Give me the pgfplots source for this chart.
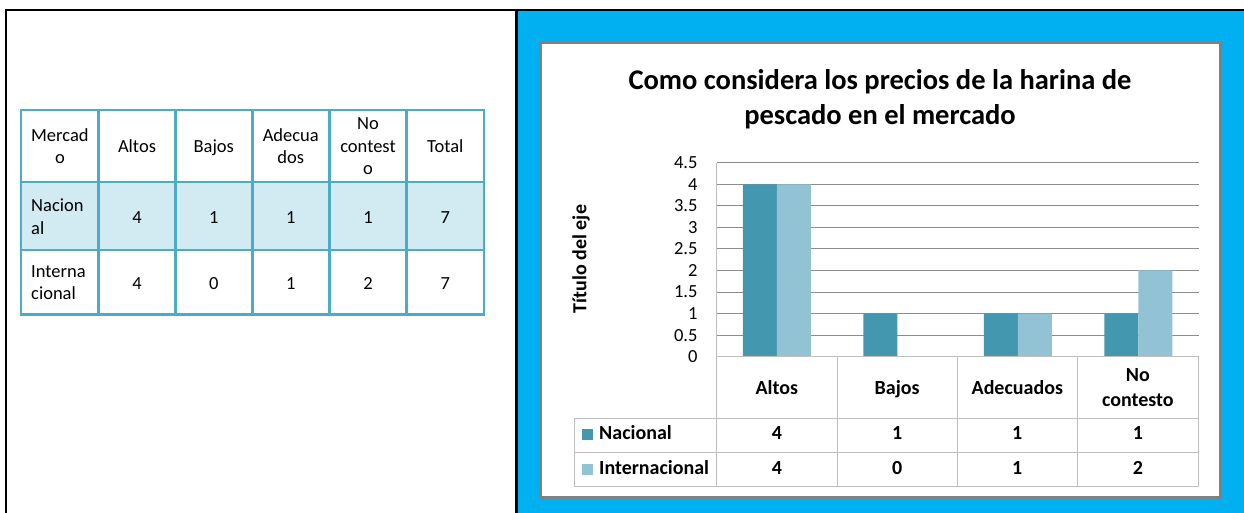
\documentclass[border=0pt]{standalone}
\usepackage{pgfplots}
\pgfplotsset{compat=1.18}
\usepackage{fontspec}
\setmainfont{Carlito}
\definecolor{nac}{RGB}{67,151,175}
\definecolor{intl}{RGB}{146,195,212}
\definecolor{skyb}{RGB}{0,176,240}
\definecolor{tblue}{RGB}{75,172,198}
\definecolor{tfill}{RGB}{210,234,241}
\definecolor{gline}{RGB}{140,140,140}
\definecolor{lline}{RGB}{190,190,190}
\definecolor{cborder}{RGB}{128,128,128}
\newcommand{\fs}[1]{\fontsize{#1}{#1}\selectfont}
\begin{document}
\begin{tikzpicture}[x=1pt,y=1pt]
\useasboundingbox (0,0) rectangle (1244,513);
% outer frame
\fill[black] (5,0) rectangle (7,504);
\fill[black] (5,502) rectangle (1244,504);
\fill[skyb] (517.5,0) rectangle (1244,502);
\fill[black] (515,0) rectangle (517.5,504);
% chart box
\draw[cborder, line width=2.6pt, fill=white] (540.7,15.7) rectangle (1220.7,470);
% left table
\fill[tfill] (21,263) rectangle (484,331);
\begin{scope}[tblue, line width=2.7pt]
\draw (21,198.7) rectangle (484,403);
\draw (21,331) -- (484,331);
\draw (21,263) -- (484,263);
\foreach \xx in {98.7,175.3,252.3,329.3,406.7} \draw (\xx,198.7) -- (\xx,403);
\end{scope}
\begin{scope}[every node/.style={inner sep=0pt, anchor=base, font=\fs{18.5}}]
\node at (59.9,371.3) {Mercad};
\node at (59.9,349.7) {o};
\node at (137,360.3) {Altos};
\node at (213.8,360.3) {Bajos};
\node at (290.8,371.3) {Adecua};
\node at (290.8,349.7) {dos};
\node at (368,383.7) {No};
\node at (368,360.3) {contest};
\node at (368,338) {o};
\node at (445.3,360.3) {Total};
\node[anchor=base west] at (31,301.3) {Nacion};
\node[anchor=base west] at (31,278.7) {al};
\node at (137,289.7) {4};
\node at (213.8,289.7) {1};
\node at (290.8,289.7) {1};
\node at (368,289.7) {1};
\node at (445.3,289.7) {7};
\node[anchor=base west] at (31,235.7) {Interna};
\node[anchor=base west] at (31,213) {cional};
\node at (137,223.7) {4};
\node at (213.8,223.7) {0};
\node at (290.8,223.7) {1};
\node at (368,223.7) {2};
\node at (445.3,223.7) {7};
\end{scope}
% chart title
\node[inner sep=0pt, anchor=base, font=\fs{28.5}\bfseries] at (880,423) {Como considera los precios de la harina de};
\node[inner sep=0pt, anchor=base, font=\fs{28.5}\bfseries] at (880,388) {pescado en el mercado};
\node[inner sep=0pt, rotate=90, font=\fs{20}\bfseries] at (581,254) {Título del eje};
\begin{axis}[
  at={(716.7pt,156.3pt)}, anchor=south west,
  scale only axis, width=481.8pt, height=194pt,
  xmin=-0.5, xmax=3.5, ymin=0, ymax=4.5,
  ybar=0pt, bar width=34pt,
  axis x line=none, axis y line=left,
  axis line style={-, draw=lline, line width=1pt},
  ytick={0,0.5,1,1.5,2,2.5,3,3.5,4,4.5},
  yticklabels={0,0.5,1,1.5,2,2.5,3,3.5,4,4.5},
  major tick length=0pt,
  ymajorgrids, grid style={gline, line width=1pt},
  yticklabel style={font=\fs{18.5}, anchor=east, inner sep=0pt, xshift=-19pt},
  xtick=\empty,
  clip=false,
]
\addplot[fill=nac, draw=none] coordinates {(0,4) (1,1) (2,1) (3,1)};
\addplot[fill=intl, draw=none] coordinates {(0,4) (1,0) (2,1) (3,2)};
\end{axis}
% data table
\begin{scope}[lline, line width=1pt]
\draw (716.7,156.3) -- (1198.5,156.3);
\foreach \xx in {716.7,837,957.3,1077.3,1198.5} \draw (\xx,156.3) -- (\xx,26.3);
\draw (574.7,94.7) -- (1198.5,94.7);
\draw (574.7,60.7) -- (1198.5,60.7);
\draw (574.7,26.3) -- (1198.5,26.3);
\draw (574.7,26.3) -- (574.7,94.7);
\end{scope}
\fill[nac] (582,73) rectangle (593,84);
\fill[intl] (582,38) rectangle (593,49);
\begin{scope}[every node/.style={inner sep=0pt, anchor=base, font=\fs{20}\bfseries}]
\node at (776.85,118) {Altos};
\node at (897.15,118) {Bajos};
\node at (1017.3,118) {Adecuados};
\node at (1137.9,131.3) {No};
\node at (1137.9,106.3) {contesto};
\node[anchor=base west] at (599,73) {Nacional};
\node[anchor=base west] at (599,38) {Internacional};
\node at (776.85,73) {4};
\node at (897.15,73) {1};
\node at (1017.3,73) {1};
\node at (1137.9,73) {1};
\node at (776.85,38) {4};
\node at (897.15,38) {0};
\node at (1017.3,38) {1};
\node at (1137.9,38) {2};
\end{scope}
\end{tikzpicture}
\end{document}
